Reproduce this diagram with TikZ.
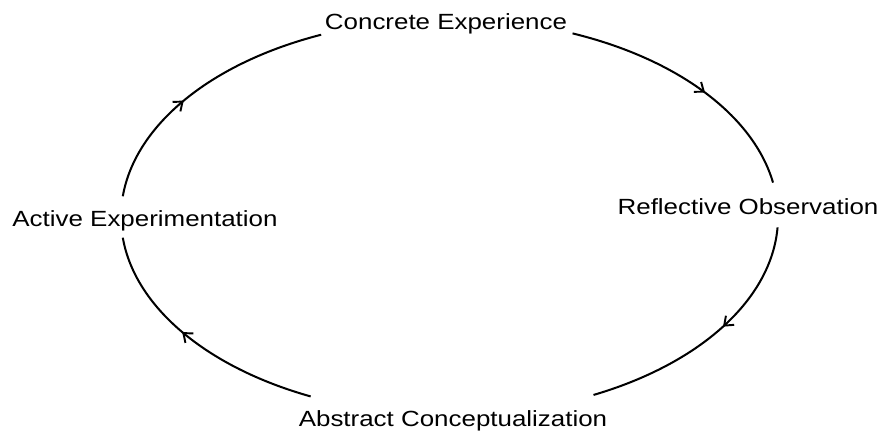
\documentclass[tikz,border=0pt]{standalone}
\usepackage{fontspec}
\setmainfont{Liberation Sans}[FakeStretch=1.18]
\usepackage{tikz}
\usetikzlibrary{arrows.meta, calc, decorations.markings}

\tikzset{
	phase/.style={font=\fontsize{12.5}{14}\selectfont, inner sep=0pt, anchor=base},
	cyc/.style={line width=1.15pt},
	tip/.style={postaction={decorate}, decoration={markings, mark=at position #1 with {\arrow{Straight Barb[length=4.5pt, width=7pt, line width=1.1pt]}}}}
}

\begin{document}
\begin{tikzpicture}
					\useasboundingbox (0,0) rectangle (17.76,8.64);
					
					\node[phase] at (8.92,8.04) (ce) {Concrete Experience};
					\node[phase] at (14.96,4.34) (ro) {Reflective Observation};
					\node[phase] at (9.06,0.11) (ac) {Abstract Conceptualization};
					\node[phase] at (2.90,4.10) (ae) {Active Experimentation};
					
					% ends of the arcs, on the ellipse round (mid)
					\coordinate (mid) at (8.99,4.30);
					\coordinate (ce-e) at ($(mid)+(68:6.57 and 3.96)$);
					\coordinate (ro-s) at ($(mid)+(-3:6.57 and 3.96)$);
					\coordinate (ac-w) at ($(mid)+(-115:6.57 and 3.96)$);
					\coordinate (ae-n) at ($(mid)+(174:6.57 and 3.96)$);
					
					\draw[cyc, tip=0.56] (ce-e) arc[start angle=68, end angle=10, x radius=6.57, y radius=3.96];
					\draw[cyc, tip=0.44] (ro-s) arc[start angle=-3, end angle=-64, x radius=6.57, y radius=3.96];
					\draw[cyc, tip=0.56] (ac-w) arc[start angle=-115, end angle=-174, x radius=6.57, y radius=3.96];
					\draw[cyc, tip=0.43] (ae-n) arc[start angle=174, end angle=113, x radius=6.57, y radius=3.96];
				\end{tikzpicture}
\end{document}
